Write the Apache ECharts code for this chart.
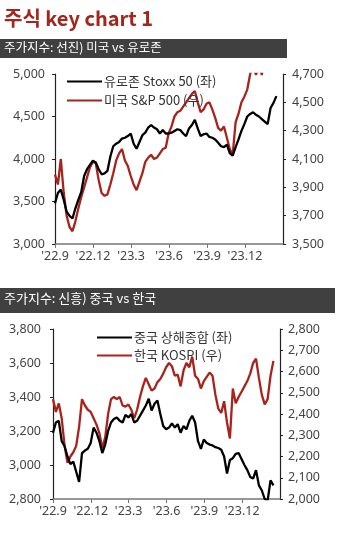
<!DOCTYPE html>
<html><head><meta charset="utf-8">
<script src="https://cdn.jsdelivr.net/npm/echarts@6/dist/echarts.min.js"></script>
<style>html,body{margin:0;padding:0;background:#fff}#c{width:354px;height:533px}</style>
</head><body><div id="c"></div>
<script>
// Weekly samples starting 2022-09 (week index -> month offset)
const xTickLabels = ["'22.9", "'22.12", "'23.3", "'23.6", "'23.9", "'23.12"];
const stoxx50 = [3480,3600,3640,3520,3380,3330,3300,3420,3520,3610,3800,3880,3930,3980,3960,3880,3820,3830,3860,4030,4150,4180,4200,4240,4250,4270,4300,4180,4120,4200,4280,4310,4370,4400,4370,4350,4300,4340,4300,4300,4310,4330,4350,4340,4300,4270,4360,4400,4460,4360,4270,4290,4300,4260,4250,4230,4190,4150,4140,4170,4070,4040,4140,4230,4330,4410,4500,4530,4550,4520,4500,4470,4440,4410,4600,4660,4740];
const sp500 = [3990,3920,4100,3860,3700,3620,3590,3660,3750,3830,3900,3970,4040,4080,4070,3950,3860,3840,3850,3920,4000,4090,4140,4170,4090,4050,3980,3920,3880,3940,4000,4080,4110,4130,4100,4110,4140,4170,4180,4280,4330,4400,4430,4440,4470,4500,4530,4560,4580,4500,4430,4450,4490,4500,4450,4390,4320,4300,4330,4250,4170,4130,4360,4420,4500,4540,4590,4700,4760,4693,4770,4693,4850,4950,5000,5050,5080];
const shanghai = [3190,3250,3260,3140,3110,3050,3005,3020,2960,2900,3070,3085,3095,3130,3220,3190,3140,3070,3120,3200,3250,3270,3280,3260,3250,3295,3280,3300,3250,3260,3290,3320,3350,3390,3320,3360,3380,3300,3230,3210,3220,3245,3220,3240,3190,3230,3210,3260,3290,3250,3140,3095,3150,3130,3120,3115,3105,3100,3090,3050,2950,3030,3040,3065,3070,3035,3000,2970,2930,2920,2970,2880,2850,2800,2790,2910,2880];
const kospi = [2470,2410,2450,2380,2250,2170,2200,2220,2250,2340,2470,2440,2420,2410,2380,2350,2310,2240,2290,2400,2470,2480,2470,2480,2440,2435,2445,2420,2380,2420,2480,2530,2570,2540,2510,2520,2550,2565,2590,2620,2640,2625,2580,2585,2530,2605,2640,2620,2670,2580,2565,2520,2555,2575,2595,2580,2490,2425,2405,2460,2360,2285,2520,2450,2480,2505,2530,2555,2590,2640,2660,2570,2490,2445,2470,2580,2650];

const WEEK_IN_MONTHS = 7 / 30.4375;
const toXY = arr => arr.map((v, i) => [i * WEEK_IN_MONTHS, v]);

const RED = '#a8231c';
const FONT = '"Noto Sans", "Noto Sans CJK KR", sans-serif';
const KFONT = '"Noto Sans CJK KR", "Noto Sans", sans-serif';

const chart = echarts.init(document.getElementById('c'), null, {renderer: 'canvas'});

function xAxisCfg(gi) {
  return {
    type: 'value', gridIndex: gi, min: 0, max: 18, interval: 3,
    axisLine: {lineStyle: {color: '#777', width: 1.5}},
    axisTick: {show: true, length: 4, lineStyle: {color: '#777'}},
    splitLine: {show: false},
    axisLabel: {
      color: '#444', fontSize: 12.5, fontFamily: FONT, margin: 6, showMaxLabel: false,
      formatter: v => xTickLabels[Math.round(v / 3)] || ''
    }
  };
}
function yAxisCfg(gi, min, max, interval, pos, margin) {
  return {
    type: 'value', gridIndex: gi, min: min, max: max, interval: interval, position: pos,
    axisLine: {show: true, lineStyle: {color: '#222', width: 1.2}},
    axisTick: {show: true, length: 3, lineStyle: {color: '#222'}},
    splitLine: {show: false},
    axisLabel: {color: '#444', fontSize: 12.5, fontFamily: FONT, margin: margin,
      formatter: v => v.toLocaleString('en-US')}
  };
}

const lineStyleBase = {width: 2.3};

chart.setOption({
  animation: false,
  backgroundColor: '#fff',
  graphic: [
    {type: 'text', left: 4, top: 8, style: {text: '주식 key chart 1', fill: '#a3261d', font: 'bold 20px ' + KFONT}},
    {type: 'rect', shape: {x: 0, y: 39, width: 287, height: 19}, style: {fill: '#404040'}},
    {type: 'text', left: 4, top: 41, style: {text: '주가지수: 선진) 미국 vs 유로존', fill: '#fff', font: '12.5px ' + KFONT}},
    {type: 'rect', shape: {x: 0, y: 288, width: 335, height: 25}, style: {fill: '#404040'}},
    {type: 'text', left: 4, top: 292, style: {text: '주가지수: 신흥) 중국 vs 한국', fill: '#fff', font: '13px ' + KFONT}}
  ],
  grid: [
    {left: 55, right: 71, top: 74, bottom: 289, containLabel: false},
    {left: 53, right: 74, top: 329, bottom: 34, containLabel: false}
  ],
  legend: [
    {
      data: ['유로존 Stoxx 50 (좌)', '미국 S&P 500 (우)'],
      orient: 'vertical', left: 62, top: 69, itemWidth: 35, itemHeight: 2, itemGap: 4,
      icon: 'rect',
      textStyle: {fontSize: 13, color: '#333', fontFamily: KFONT, lineHeight: 15, padding: [0,0,0,-3]}
    },
    {
      data: ['중국 상해종합 (좌)', '한국 KOSPI (우)'],
      orient: 'vertical', left: 92, top: 325, itemWidth: 35, itemHeight: 2, itemGap: 3,
      icon: 'rect',
      textStyle: {fontSize: 13, color: '#333', fontFamily: KFONT, lineHeight: 15, padding: [0,0,0,-3]}
    }
  ],
  xAxis: [xAxisCfg(0), xAxisCfg(1)],
  yAxis: [
    yAxisCfg(0, 3000, 5000, 500, 'left', 10),
    yAxisCfg(0, 3500, 4700, 200, 'right', 9),
    yAxisCfg(1, 2800, 3800, 200, 'left', 12),
    yAxisCfg(1, 2000, 2800, 100, 'right', 8)
  ],
  series: [
    {name: '유로존 Stoxx 50 (좌)', type: 'line', xAxisIndex: 0, yAxisIndex: 0, data: toXY(stoxx50),
     showSymbol: false, symbol: 'none', clip: true, color: '#000', lineStyle: Object.assign({color: '#000'}, lineStyleBase), z: 3},
    {name: '미국 S&P 500 (우)', type: 'line', xAxisIndex: 0, yAxisIndex: 1, data: toXY(sp500),
     showSymbol: false, symbol: 'none', clip: true, color: RED, lineStyle: Object.assign({color: RED}, lineStyleBase), z: 2},
    {name: '중국 상해종합 (좌)', type: 'line', xAxisIndex: 1, yAxisIndex: 2, data: toXY(shanghai),
     showSymbol: false, symbol: 'none', clip: true, color: '#000', lineStyle: Object.assign({color: '#000'}, lineStyleBase), z: 3},
    {name: '한국 KOSPI (우)', type: 'line', xAxisIndex: 1, yAxisIndex: 3, data: toXY(kospi),
     showSymbol: false, symbol: 'none', clip: true, color: RED, lineStyle: Object.assign({color: RED}, lineStyleBase), z: 2}
  ]
});
</script></body></html>
